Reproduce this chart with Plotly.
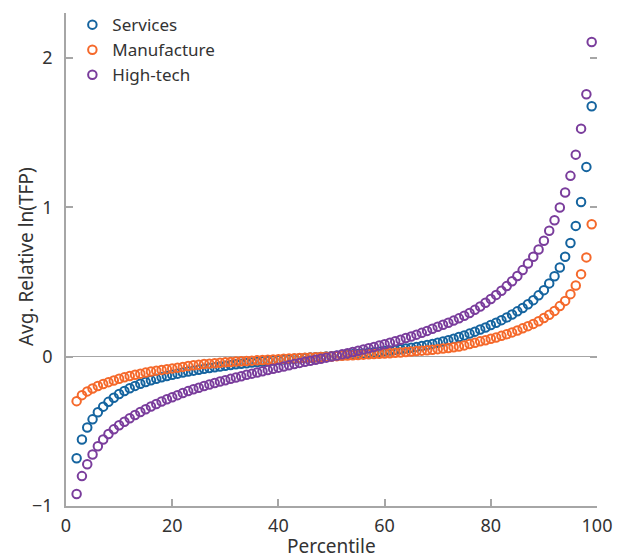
import plotly.graph_objects as go

percentile = list(range(2, 100))

services = [
    -0.680, -0.555, -0.475, -0.420, -0.372, -0.335, -0.303, -0.275, -0.250, -0.230,
    -0.212, -0.196, -0.182, -0.170, -0.159, -0.149, -0.139, -0.130, -0.122, -0.114,
    -0.107, -0.100, -0.094, -0.088, -0.082, -0.076, -0.071, -0.066, -0.061, -0.056,
    -0.052, -0.048, -0.044, -0.040, -0.036, -0.033, -0.029, -0.026, -0.023, -0.020,
    -0.017, -0.014, -0.011, -0.009, -0.006, -0.004, -0.002, 0.000, 0.003, 0.006,
    0.009, 0.012, 0.015, 0.018, 0.021, 0.025, 0.029, 0.033, 0.037, 0.041,
    0.045, 0.049, 0.054, 0.059, 0.065, 0.071, 0.078, 0.085, 0.093, 0.101,
    0.110, 0.120, 0.131, 0.142, 0.154, 0.167, 0.181, 0.195, 0.211, 0.227,
    0.244, 0.262, 0.282, 0.303, 0.325, 0.351, 0.378, 0.410, 0.445, 0.490,
    0.538, 0.597, 0.668, 0.761, 0.875, 1.035, 1.270, 1.676,
]

manufacture = [
    -0.298, -0.258, -0.233, -0.213, -0.197, -0.183, -0.171, -0.160, -0.148, -0.139,
    -0.130, -0.122, -0.114, -0.107, -0.100, -0.094, -0.089, -0.084, -0.079, -0.074,
    -0.069, -0.063, -0.058, -0.054, -0.050, -0.047, -0.044, -0.041, -0.038, -0.036,
    -0.033, -0.031, -0.029, -0.027, -0.025, -0.023, -0.021, -0.019, -0.017, -0.015,
    -0.013, -0.011, -0.010, -0.008, -0.006, -0.004, -0.003, -0.001, 0.001, 0.003,
    0.005, 0.007, 0.009, 0.011, 0.013, 0.015, 0.017, 0.019, 0.021, 0.023,
    0.026, 0.028, 0.031, 0.034, 0.037, 0.040, 0.043, 0.046, 0.050, 0.054,
    0.058, 0.063, 0.068, 0.075, 0.084, 0.092, 0.102, 0.110, 0.119, 0.128,
    0.139, 0.150, 0.162, 0.175, 0.189, 0.204, 0.219, 0.237, 0.258, 0.280,
    0.306, 0.338, 0.373, 0.418, 0.476, 0.552, 0.664, 0.886,
]

hightech = [
    -0.920, -0.800, -0.720, -0.655, -0.600, -0.555, -0.518, -0.487, -0.460, -0.436,
    -0.413, -0.391, -0.371, -0.352, -0.334, -0.317, -0.301, -0.286, -0.272, -0.258,
    -0.244, -0.231, -0.219, -0.208, -0.197, -0.187, -0.177, -0.167, -0.158, -0.149,
    -0.140, -0.131, -0.122, -0.114, -0.106, -0.098, -0.090, -0.082, -0.074, -0.066,
    -0.058, -0.050, -0.042, -0.035, -0.028, -0.021, -0.014, -0.007, 0.000, 0.007,
    0.015, 0.023, 0.031, 0.039, 0.047, 0.056, 0.065, 0.074, 0.083, 0.093,
    0.103, 0.113, 0.124, 0.135, 0.147, 0.159, 0.172, 0.186, 0.200, 0.213,
    0.227, 0.241, 0.256, 0.273, 0.292, 0.313, 0.335, 0.360, 0.386, 0.413,
    0.441, 0.472, 0.504, 0.539, 0.579, 0.623, 0.668, 0.717, 0.775, 0.842,
    0.913, 0.998, 1.098, 1.210, 1.352, 1.526, 1.756, 2.106,
]

series_names = ["Services", "Manufacture", "High-tech"]
series_colors = ["#15649f", "#f5692b", "#7a3d9c"]
series_values = [services, manufacture, hightech]

x_ticks = [0, 20, 40, 60, 80, 100]
y_ticks = [-1, 0, 1, 2]

FONT = "'Noto Sans', 'Open Sans', sans-serif"
AXIS_GRAY = "#a6a6a6"
TEXT = "#333333"

fig = go.Figure()
for name, color, vals in zip(series_names, series_colors, series_values):
    fig.add_trace(go.Scatter(
        x=percentile, y=vals, name=name, mode="markers",
        marker=dict(symbol="circle-open", size=8.5, color=color, line=dict(width=2, color=color)),
    ))

# invisible trace to carry the right-hand tick marks axis
fig.add_trace(go.Scatter(x=[percentile[0]], y=[services[0]], yaxis="y2", mode="markers",
                         marker=dict(opacity=0), showlegend=False, hoverinfo="skip"))

fig.update_layout(
    width=615, height=550,
    margin=dict(l=58, r=26, t=5, b=52, autoexpand=False),
    paper_bgcolor="white", plot_bgcolor="white",
    font=dict(family=FONT, size=18, color=TEXT),
    showlegend=True,
    legend=dict(x=0.012, y=1.012, xanchor="left", yanchor="top", bgcolor="rgba(0,0,0,0)",
                font=dict(size=17, color=TEXT), itemwidth=30, tracegroupgap=0),
    xaxis=dict(range=[0, 100], tickvals=x_ticks, ticks="inside", ticklen=7, tickwidth=1.5,
               tickcolor=AXIS_GRAY, showline=True, linecolor=AXIS_GRAY, linewidth=1.5,
               showgrid=False, zeroline=False, ticklabelstandoff=3, automargin=False),
    yaxis=dict(range=[-1, 2.3], tickvals=y_ticks, ticks="inside", ticklen=7, tickwidth=1.5,
               tickcolor=AXIS_GRAY, showline=True, linecolor=AXIS_GRAY, linewidth=1.5,
               showgrid=False, zeroline=True, zerolinecolor=AXIS_GRAY, zerolinewidth=1.2,
               ticklabelstandoff=8, automargin=False),
    yaxis2=dict(range=[-1, 2.3], tickvals=y_ticks, overlaying="y", side="right",
                ticks="inside", ticklen=7, tickwidth=1.5, tickcolor=AXIS_GRAY, automargin=False,
                showticklabels=False, showline=False, showgrid=False, zeroline=False),
    annotations=[
        dict(text="Percentile", xref="paper", yref="paper", x=0.5, y=0, xanchor="center",
             yanchor="middle", yshift=-40, showarrow=False, font=dict(size=19, color=TEXT)),
        dict(text="Avg. Relative ln(TFP)", xref="paper", yref="paper", x=0, y=0.505,
             xanchor="center", yanchor="middle", xshift=-40, textangle=-90, showarrow=False,
             font=dict(size=19, color=TEXT)),
    ],
)

fig.write_html("out.html")
